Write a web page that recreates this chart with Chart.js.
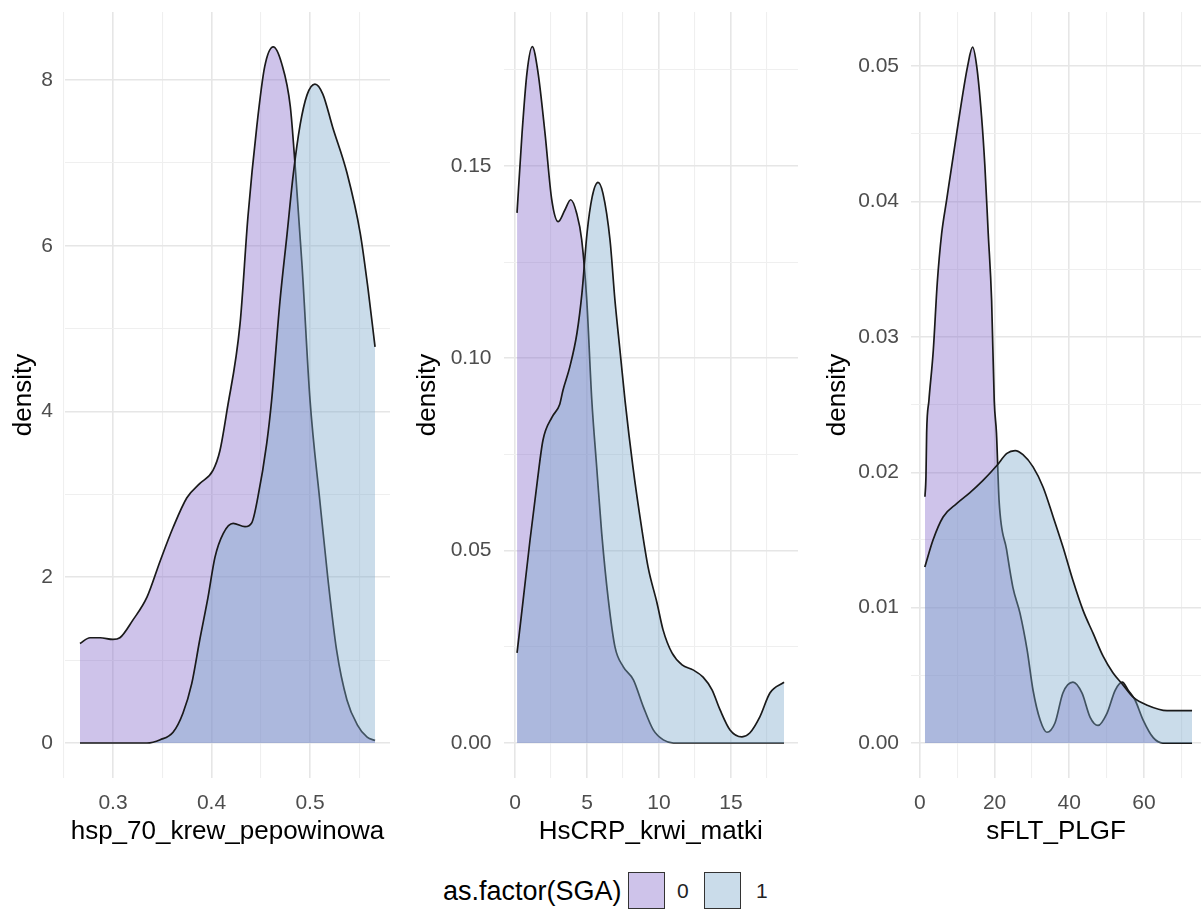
<!DOCTYPE html>
<html>
<head>
<meta charset="utf-8">
<script src="https://cdn.jsdelivr.net/npm/chart.js@4.4.1/dist/chart.umd.min.js"></script>
<style>
body { margin:0; background:#fff; width:1201px; height:913px; overflow:hidden; position:relative; font-family:'Liberation Sans', Arial, sans-serif; }
canvas { position:absolute; top:0; }
.leg { position:absolute; top:872px; height:38px; line-height:38px; }
.box { position:absolute; top:872px; width:35px; height:35px; border:1.5px solid #333; }
</style>
</head>
<body>
<canvas id="c1" width="400" height="860" style="left:0px"></canvas>
<canvas id="c2" width="405" height="860" style="left:400px"></canvas>
<canvas id="c3" width="396" height="860" style="left:805px"></canvas>

<span class="leg" id="legTitle" style="left:443px;font-size:27px;color:#000"></span>
<div class="box" id="box0" style="left:628px"></div>
<span class="leg" id="lab0" style="left:677px;font-size:21px;color:#222"></span>
<div class="box" id="box1" style="left:704px"></div>
<span class="leg" id="lab1" style="left:756px;font-size:21px;color:#222"></span>

<script>
// legend
const groupTitle = 'as.factor(SGA)'
const groups = ['0', '1']

// hsp_70_krew_pepowinowa
const hspX0 = [0.2665, 0.2767, 0.287, 0.300, 0.307, 0.320, 0.3345, 0.348, 0.361, 0.375, 0.388, 0.4015, 0.4086, 0.4157,
  0.429, 0.437, 0.446, 0.454, 0.4627, 0.4712, 0.480, 0.485, 0.492, 0.500, 0.510, 0.518, 0.527, 0.5375, 0.548, 0.558, 0.566]
const hspY0 = [1.20, 1.27, 1.27, 1.25, 1.27, 1.48, 1.76, 2.20, 2.60, 2.96, 3.13, 3.29, 3.53, 4.01,
  5.06, 6.35, 7.44, 8.16, 8.40, 8.20, 7.68, 6.95, 5.75, 4.14, 2.92, 2.00, 1.12, 0.52, 0.22, 0.07, 0.03]
const hspX1 = [0.2665, 0.3345, 0.348, 0.361, 0.371, 0.380, 0.388, 0.3965, 0.4035, 0.412, 0.422, 0.434, 0.441, 0.447,
  0.456, 0.461, 0.4695, 0.4767, 0.483, 0.490, 0.497, 0.505, 0.513, 0.523, 0.5375, 0.551, 0.559, 0.566]
const hspY1 = [0, 0, 0.04, 0.13, 0.36, 0.72, 1.24, 1.76, 2.24, 2.53, 2.65, 2.61, 2.66, 2.96,
  3.61, 4.13, 5.33, 6.14, 6.86, 7.46, 7.82, 7.95, 7.83, 7.43, 6.88, 6.15, 5.47, 4.78]

// HsCRP_krwi_matki
const crpX0 = [0.14, 0.49, 0.83, 1.2, 1.6, 2.08, 2.55, 3.0, 3.47, 3.87, 4.28, 4.63, 4.98, 5.33, 5.67, 6.02, 6.48,
  6.94, 7.52, 8.22, 8.91, 9.6, 10.3, 11.0, 18.68]
const crpY0 = [0.1378, 0.1586, 0.1742, 0.181, 0.1742, 0.1586, 0.1412, 0.1355, 0.1386, 0.1412, 0.1377, 0.1308, 0.1152,
  0.0892, 0.0718, 0.0545, 0.0372, 0.025, 0.0198, 0.0164, 0.0094, 0.0034, 0.0008, 0, 0]
const crpX1 = [0.14, 0.56, 1.04, 1.53, 1.94, 2.57, 3.1, 3.33, 3.8, 4.3, 4.65, 5.0, 5.35, 5.76, 6.11, 6.6, 6.94, 7.29,
  7.64, 8.19, 8.68, 9.24, 9.86, 10.28, 10.9, 11.6, 12.36, 13.06, 13.68, 14.24, 14.93, 15.76, 16.3, 17.0, 17.7, 18.68]
const crpY1 = [0.0234, 0.037, 0.0527, 0.0675, 0.0787, 0.0847, 0.088, 0.0917, 0.0977, 0.1065, 0.117, 0.1325, 0.1418,
  0.1457, 0.1428, 0.1306, 0.115, 0.102, 0.089, 0.0717, 0.0587, 0.0457, 0.0364, 0.0294, 0.0234, 0.0203, 0.019,
  0.0171, 0.0138, 0.0086, 0.0034, 0.0016, 0.0026, 0.0068, 0.013, 0.0158]

// sFLT_PLGF
const sfltX0 = [1.34, 1.61, 1.79, 2.4, 3.57, 4.64, 5.8, 7.14, 9.82, 12.77, 14.1, 15.2, 16.5, 17.4, 18.3, 19.2, 19.9,
  20.5, 21.2, 23.2, 24.9, 26.8, 28.7, 30.3, 32.2, 34.0, 36.2, 38.3, 41.0, 43.4, 45.6, 47.7, 50.1, 52.3, 54.2, 55.8,
  57.6, 59.8, 62.5, 65.1, 72.9]
const sfltY0 = [0.0182, 0.0197, 0.0229, 0.0253, 0.029, 0.034, 0.0376, 0.0401, 0.045, 0.05, 0.0514, 0.05, 0.0463,
  0.0426, 0.0376, 0.0327, 0.0253, 0.0229, 0.0179, 0.0143, 0.0115, 0.0096, 0.0069, 0.0039, 0.0017, 0.0008, 0.0015,
  0.0037, 0.0045, 0.0037, 0.0019, 0.0013, 0.0022, 0.0039, 0.0045, 0.0039, 0.0032, 0.0017, 0.0004, 0, 0]
const sfltX1 = [1.3, 3.5, 6.2, 9.9, 13.4, 16.9, 20.6, 23.3, 25.5, 27.6, 30.3, 33.0, 35.7, 38.3, 41.0, 43.7, 46.4,
  49.1, 51.7, 54.4, 57.1, 60.9, 66.2, 72.9]
const sfltY1 = [0.013, 0.015, 0.0167, 0.0177, 0.0185, 0.0194, 0.0205, 0.0214, 0.0216, 0.0213, 0.0204, 0.0189,
  0.0167, 0.0145, 0.012, 0.0098, 0.0081, 0.0064, 0.0052, 0.0043, 0.0034, 0.0028, 0.0024, 0.0024]

// ticks
const hspXTicks = [0.3, 0.4, 0.5], hspXLabels = ['0.3', '0.4', '0.5'], hspXMinor = [0.25, 0.35, 0.45, 0.55]
const hspYTicks = [0, 2, 4, 6, 8], hspYLabels = ['0', '2', '4', '6', '8'], hspYMinor = [1, 3, 5, 7]
const crpXTicks = [0, 5, 10, 15], crpXLabels = ['0', '5', '10', '15'], crpXMinor = [2.5, 7.5, 12.5, 17.5]
const crpYTicks = [0, 0.05, 0.10, 0.15], crpYLabels = ['0.00', '0.05', '0.10', '0.15'], crpYMinor = [0.025, 0.075, 0.125, 0.175]
const sfltXTicks = [0, 20, 40, 60], sfltXLabels = ['0', '20', '40', '60'], sfltXMinor = [10, 30, 50, 70]
const sfltYTicks = [0, 0.01, 0.02, 0.03, 0.04, 0.05], sfltYLabels = ['0.00', '0.01', '0.02', '0.03', '0.04', '0.05']
const sfltYMinor = [0.005, 0.015, 0.025, 0.035, 0.045]

const fill0 = 'rgba(132,105,202,0.4)'
const fill1 = 'rgba(122,167,202,0.4)'
const tickFont = {family: "'Liberation Sans', Arial, sans-serif", size: 21}
const titleFont = {family: "'Liberation Sans', Arial, sans-serif", size: 26, lineHeight: 1.2}

document.getElementById('legTitle').textContent = groupTitle
document.getElementById('lab0').textContent = groups[0]
document.getElementById('lab1').textContent = groups[1]
document.getElementById('box0').style.background = fill0
document.getElementById('box1').style.background = fill1

function pts(xs, ys) {
    return xs.map((x, i) => ({x: x, y: ys[i]}))
}

function axis(major, labels, minor, min, max, title, fit) {
    const isMajor = v => major.some(m => Math.abs(m - v) < 1e-9)
    return {
        type: 'linear',
        min: min,
        max: max,
        border: {display: false},
        grid: {
            drawTicks: false,
            color: c => isMajor(c.tick.value) ? '#e6e6e6' : '#efefef',
            lineWidth: c => isMajor(c.tick.value) ? 1.6 : 1.1
        },
        afterBuildTicks: s => { s.ticks = major.concat(minor).sort((a, b) => a - b).map(v => ({value: v})) },
        // keep the plot panel exactly where ggplot put it
        afterFit: s => {
            fit(s)
            s.paddingTop = 0; s.paddingBottom = 0; s.paddingLeft = 0; s.paddingRight = 0
        },
        ticks: {
            autoSkip: false,
            maxRotation: 0,
            color: '#4d4d4d',
            font: tickFont,
            callback: v => {
                const i = major.findIndex(m => Math.abs(m - v) < 1e-9)
                return i >= 0 ? labels[i] : ''
            }
        },
        title: {display: true, text: title, color: '#000', font: titleFont}
    }
}

function densityChart(id, p) {
    const xScale = axis(p.xt, p.xl, p.xm, p.xmin, p.xmax, p.xtitle, s => { s.height = 82 })
    xScale.ticks.padding = 13
    xScale.title.padding = {top: 0, bottom: 13}
    const yScale = axis(p.yt, p.yl, p.ym, p.ymin, p.ymax, 'density', s => { s.width = p.yw })
    yScale.ticks.padding = 12
    yScale.title.padding = {top: p.tpad, bottom: 0}

    new Chart(document.getElementById(id), {
        type: 'line',
        data: {
            datasets: [
                {label: groups[0], data: pts(p.x0, p.y0), backgroundColor: fill0, order: 1},
                {label: groups[1], data: pts(p.x1, p.y1), backgroundColor: fill1, order: 0}
            ].map(d => Object.assign(d, {
                fill: 'origin', borderColor: '#1a1a1a', borderWidth: 1.7,
                pointRadius: 0, cubicInterpolationMode: 'monotone'
            }))
        },
        options: {
            responsive: false,
            animation: false,
            layout: {padding: {top: 12, right: p.rpad, bottom: 0, left: 0}},
            plugins: {legend: {display: false}, tooltip: {enabled: false}},
            scales: {x: xScale, y: yScale}
        }
    })
}

densityChart('c1', {
    x0: hspX0, y0: hspY0, x1: hspX1, y1: hspY1,
    xt: hspXTicks, xl: hspXLabels, xm: hspXMinor, xmin: 0.2513, xmax: 0.5812, xtitle: 'hsp_70_krew_pepowinowa',
    yt: hspYTicks, yl: hspYLabels, ym: hspYMinor, ymin: -0.422, ymax: 8.82,
    yw: 65, tpad: 8, rpad: 10
})
densityChart('c2', {
    x0: crpX0, y0: crpY0, x1: crpX1, y1: crpY1,
    xt: crpXTicks, xl: crpXLabels, xm: crpXMinor, xmin: -0.8, xmax: 19.65, xtitle: 'HsCRP_krwi_matki',
    yt: crpYTicks, yl: crpYLabels, ym: crpYMinor, ymin: -0.0091, ymax: 0.19,
    yw: 103.5, tpad: 12, rpad: 7
})
densityChart('c3', {
    x0: sfltX0, y0: sfltY0, x1: sfltX1, y1: sfltY1,
    xt: sfltXTicks, xl: sfltXLabels, xm: sfltXMinor, xmin: -2.4, xmax: 75.3, xtitle: 'sFLT_PLGF',
    yt: sfltYTicks, yl: sfltYLabels, ym: sfltYMinor, ymin: -0.00258, ymax: 0.054,
    yw: 106, tpad: 17, rpad: 0
})
</script>
</body>
</html>
